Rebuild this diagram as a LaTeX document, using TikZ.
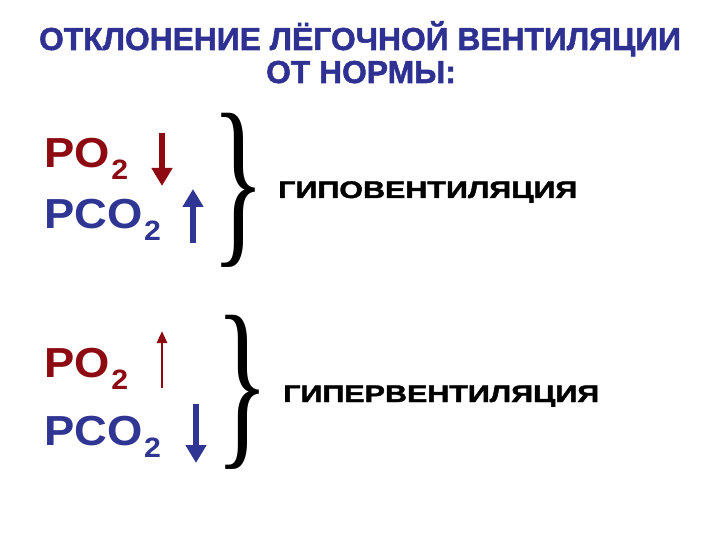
\documentclass[tikz,border=0pt]{standalone}
\usepackage{fontspec}
\setmainfont{Liberation Sans}
\newfontfamily\heavy{Liberation Sans}[BoldFeatures={FakeBold=1.6}]
\newfontfamily\serifbr{Liberation Serif}
\usetikzlibrary{arrows.meta}
\definecolor{titleblue}{HTML}{2E3192}
\definecolor{pored}{HTML}{8E0A12}
\definecolor{pcoblue}{HTML}{2F3592}
\tikzset{
  ttl/.style={font=\heavy\fontsize{31.8}{34}\selectfont\bfseries, text=titleblue, inner sep=0pt, anchor=base},
  gas/.style={font=\fontsize{42}{44}\selectfont\bfseries, inner sep=0pt, anchor=base west},
  lbl/.style={font=\heavy\fontsize{24}{26}\selectfont\bfseries, text=black, inner sep=0pt, anchor=base west},
  brc/.style={inner sep=0pt, anchor=north west},
  arrthick/.style={line width=6.5pt, -{Triangle[width=20pt,length=18pt]}},
  arrthin/.style={line width=2.6pt, -{Triangle[width=10pt,length=12pt]}}
}
\newcommand{\subtwo}{\kern1.5pt\raisebox{-12pt}{\fontsize{28}{28}\selectfont 2}}
\newcommand{\bigbrace}{\resizebox*{54pt}{154pt}{\serifbr\}}}
\begin{document}
\begin{tikzpicture}[x=1pt,y=-1pt]
\useasboundingbox (0,0) rectangle (720,540);
\node[ttl] (t1) at (360,50) {ОТКЛОНЕНИЕ ЛЁГОЧНОЙ ВЕНТИЛЯЦИИ};
\node[ttl] (t2) at (361,83) {ОТ НОРМЫ:};
% block 1
\node[gas, text=pored] (po1) at (44,168) {\scalebox{1.08}[1]{PO\subtwo}};
\node[gas, text=pcoblue] (pco1) at (44,229) {\scalebox{1.08}[1]{PCO\subtwo}};
\coordinate (a1s) at (162,133); \coordinate (a1e) at (162,186);
\draw[arrthick, pored] (a1s) -- (a1e);
\coordinate (b1s) at (193,243); \coordinate (b1e) at (193,189);
\draw[arrthick, pcoblue] (b1s) -- (b1e);
\node[brc] (br1) at (211,113) {\bigbrace};
\node[lbl] (h1) at (278,198) {\scalebox{1.27}[1]{ГИПОВЕНТИЛЯЦИЯ}};
% block 2
\node[gas, text=pored] (po2) at (44,377) {\scalebox{1.08}[1]{PO\subtwo}};
\node[gas, text=pcoblue] (pco2) at (44,445) {\scalebox{1.08}[1]{PCO\subtwo}};
\coordinate (a2s) at (162,388); \coordinate (a2e) at (162,331);
\draw[arrthin, pored] (a2s) -- (a2e);
\coordinate (b2s) at (196,404); \coordinate (b2e) at (196,463);
\draw[arrthick, pcoblue] (b2s) -- (b2e);
\node[brc] (br2) at (215,315) {\bigbrace};
\node[lbl] (h2) at (283,402) {\scalebox{1.27}[1]{ГИПЕРВЕНТИЛЯЦИЯ}};
\end{tikzpicture}
\end{document}
